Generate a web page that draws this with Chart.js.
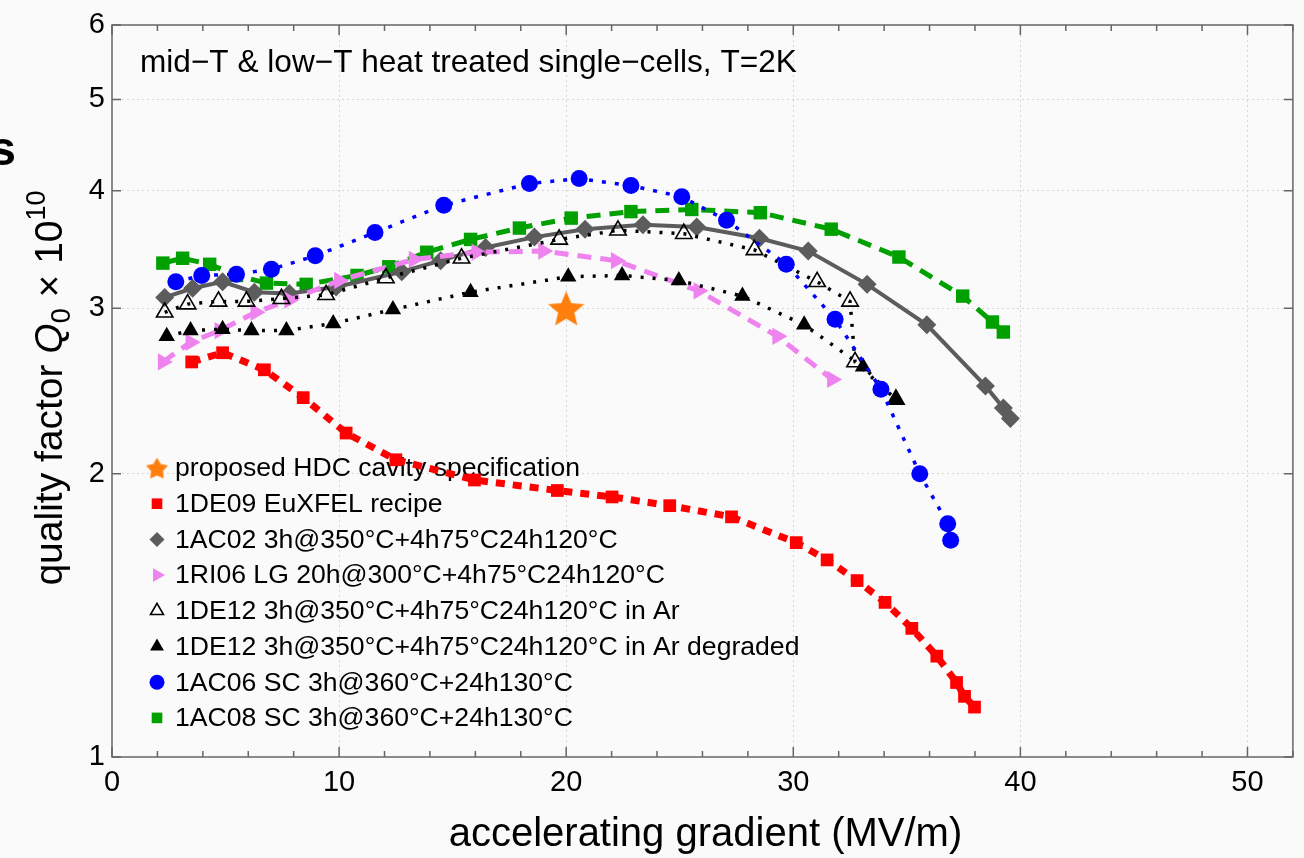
<!DOCTYPE html>
<html>
<head>
<meta charset="utf-8">
<script src="https://cdn.jsdelivr.net/npm/chart.js@4.4.1/dist/chart.umd.min.js"></script>
<style>
html,body{margin:0;padding:0;background:#fafafa;}
#wrap{width:1304px;height:858px;}
</style>
</head>
<body>
<div id="wrap"><canvas id="wykresQ0" width="1304" height="858"></canvas></div>
<script>
const seriesLabels = [
  "proposed HDC cavity specification",
  "1DE09 EuXFEL recipe",
  "1AC02 3h@350°C+4h75°C24h120°C",
  "1RI06 LG 20h@300°C+4h75°C24h120°C",
  "1DE12 3h@350°C+4h75°C24h120°C in Ar",
  "1DE12 3h@350°C+4h75°C24h120°C in Ar degraded",
  "1AC06 SC 3h@360°C+24h130°C",
  "1AC08 SC 3h@360°C+24h130°C"
];

const specX = [20];
const specY = [3.0];

const de09X = [3.51,4.87,6.71,8.42,10.31,12.50,15.96,19.61,22.02,24.56,27.28,30.13,31.49,32.81,34.04,35.22,36.32,37.19,37.54,37.98];
const de09Y = [2.63,2.69,2.58,2.41,2.21,2.07,1.97,1.92,1.89,1.85,1.80,1.69,1.62,1.54,1.46,1.37,1.28,1.20,1.16,1.13];

const ac02X = [2.32,3.55,4.87,6.27,7.81,9.87,12.76,14.47,16.45,18.60,20.83,23.38,25.75,28.51,30.66,33.25,35.88,38.46,39.25,39.56];
const ac02Y = [3.08,3.15,3.20,3.12,3.11,3.16,3.28,3.37,3.48,3.57,3.64,3.68,3.66,3.56,3.45,3.18,2.88,2.48,2.35,2.29];

const ri06X = [2.24,3.46,4.74,6.32,7.81,10.0,13.29,16.05,18.99,22.19,25.83,29.30,31.71];
const ri06Y = [2.63,2.76,2.84,2.97,3.06,3.21,3.38,3.44,3.45,3.37,3.13,2.80,2.52];

const de12X = [2.32,3.33,4.69,5.92,7.46,9.43,12.06,15.39,19.69,22.28,25.18,28.29,31.05,32.50,32.72,34.52];
const de12Y = [2.97,3.03,3.05,3.05,3.07,3.10,3.23,3.39,3.55,3.63,3.60,3.46,3.20,3.05,2.63,2.40];

const de12degX = [2.41,3.46,4.87,6.14,7.68,9.74,12.37,15.79,20.09,22.46,24.96,27.76,30.48,33.07,34.52];
const de12degY = [2.80,2.84,2.85,2.84,2.84,2.89,2.99,3.12,3.24,3.25,3.21,3.09,2.88,2.60,2.40];

const ac06X = [2.81,3.95,5.48,7.02,8.95,11.58,14.61,18.38,20.57,22.85,25.09,27.06,29.69,31.84,33.86,35.57,36.80,36.93];
const ac06Y = [3.20,3.25,3.26,3.30,3.41,3.61,3.86,4.07,4.12,4.05,3.94,3.72,3.34,2.92,2.46,2.00,1.77,1.70];

const ac08X = [2.24,3.11,4.30,5.48,6.80,8.55,10.79,12.19,13.86,15.79,17.94,20.22,22.85,25.53,28.55,31.67,34.65,37.46,38.77,39.25];
const ac08Y = [3.35,3.39,3.34,3.25,3.19,3.18,3.25,3.32,3.44,3.55,3.65,3.74,3.80,3.82,3.79,3.64,3.40,3.09,2.90,2.83];

const yTicks = [1,2,3,4,5,6];
const xMajor = [0,10,20,30,40,50];

const FONT = '"Liberation Sans", Arial, sans-serif';

function pts(xs, ys) {
  return xs.map((x, i) => ({x: x, y: ys[i]}));
}

function makeStar(r, inner, color) {
  var cv = document.createElement('canvas');
  cv.width = cv.height = Math.ceil(r * 2 + 2);
  var c = cv.getContext('2d');
  c.translate(cv.width / 2, cv.height / 2 + r * 0.1);
  c.beginPath();
  for (var i = 0; i < 10; i++) {
    var a = -Math.PI / 2 + i * Math.PI / 5;
    var rr = i % 2 === 0 ? r : r * inner;
    c.lineTo(Math.cos(a) * rr, Math.sin(a) * rr);
  }
  c.closePath();
  c.fillStyle = color;
  c.fill();
  return cv;
}

var bigStar = makeStar(19, 0.45, '#ff7f0e');
var smallStar = makeStar(11.5, 0.55, '#ff7f0e');

// marker look in the legend: style, radius, rotation, fill, stroke
var legendMarks = [
  {s: smallStar, r: 11, rot: 0, fill: '#ff7f0e', stroke: null},
  {s: 'rect', r: 7.5, rot: 0, fill: '#ff0000', stroke: null},
  {s: 'rectRot', r: 7.5, rot: 0, fill: '#5c5c5c', stroke: null},
  {s: 'triangle', r: 8, rot: 90, fill: '#ee82ee', stroke: null},
  {s: 'triangle', r: 7.5, rot: 0, fill: null, stroke: '#000'},
  {s: 'triangle', r: 8, rot: 0, fill: '#000', stroke: null},
  {s: 'circle', r: 7.5, rot: 0, fill: '#0000ff', stroke: null},
  {s: 'rect', r: 7.5, rot: 0, fill: '#00a000', stroke: null}
];

function drawMark(c, m, x, y) {
  c.save();
  c.translate(x, y);
  if (typeof m.s !== 'string') {
    c.drawImage(m.s, -m.s.width / 2, -m.s.height / 2);
    c.restore();
    return;
  }
  c.rotate(m.rot * Math.PI / 180);
  var r = m.r;
  c.beginPath();
  if (m.s === 'circle') {
    c.arc(0, 0, r, 0, Math.PI * 2);
  } else if (m.s === 'rect') {
    var h = r * Math.SQRT1_2;
    c.rect(-h, -h, 2 * h, 2 * h);
  } else if (m.s === 'rectRot') {
    c.moveTo(0, -r); c.lineTo(r, 0); c.lineTo(0, r); c.lineTo(-r, 0);
    c.closePath();
  } else if (m.s === 'triangle') {
    for (var i = 0; i < 3; i++) {
      var a = i * 2 * Math.PI / 3;
      c.lineTo(Math.sin(a) * r, -Math.cos(a) * r);
    }
    c.closePath();
  }
  if (m.fill) { c.fillStyle = m.fill; c.fill(); }
  if (m.stroke) { c.strokeStyle = m.stroke; c.lineWidth = 1.6; c.stroke(); }
  c.restore();
}

var decorPlugin = {
  id: 'decor',
  beforeDraw(chart) {
    var c = chart.ctx;
    c.save();
    c.fillStyle = '#fafafa';
    c.fillRect(0, 0, chart.width, chart.height);
    c.restore();
  },
  beforeDatasetsDraw(chart) {
    var c = chart.ctx;
    c.save();
    c.font = '26.6px ' + FONT;
    c.fillStyle = '#000';
    c.textBaseline = 'middle';
    seriesLabels.forEach(function(lab, i) {
      var y = 468 + i * 35.7;
      drawMark(c, legendMarks[i], 157, y);
      c.fillText(lab, 175, y + 1);
    });
    c.restore();
  },
  afterDatasetsDraw(chart) {
    var c = chart.ctx;
    var a = chart.chartArea;
    var xs = chart.scales.x, ys = chart.scales.y;
    c.save();
    c.strokeStyle = '#666';
    c.lineWidth = 1.5;
    c.beginPath();
    for (var v = 0; v <= 52; v += 2) {
      var px = xs.getPixelForValue(v);
      var len = v % 10 === 0 ? 10 : 6;
      c.moveTo(px, a.bottom); c.lineTo(px, a.bottom - len);
      c.moveTo(px, a.top); c.lineTo(px, a.top + len);
    }
    yTicks.forEach(function(t) {
      var py = ys.getPixelForValue(t);
      c.moveTo(a.left, py); c.lineTo(a.left + 9, py);
      c.moveTo(a.right, py); c.lineTo(a.right - 9, py);
    });
    c.stroke();
    c.strokeRect(a.left, a.top, a.right - a.left, a.bottom - a.top);
    c.restore();
  },
  afterDraw(chart) {
    var c = chart.ctx;
    var a = chart.chartArea;
    c.save();
    c.fillStyle = '#000';
    c.textBaseline = 'alphabetic';
    c.font = '31.6px ' + FONT;
    c.fillText('mid\u2212T & low\u2212T heat treated single\u2212cells, T=2K', 140, 72);

    c.textAlign = 'center';
    c.font = '40px ' + FONT;
    c.fillText('accelerating gradient (MV/m)', (a.left + a.right) / 2 + 3, 846);

    c.font = 'bold 48px ' + FONT;
    c.textAlign = 'right';
    c.fillText('s', 16, 165);

    c.textAlign = 'left';
    c.translate(62, 388);
    c.rotate(-Math.PI / 2);
    var parts = [
      {t: 'quality factor ', f: '39px ' + FONT, dy: 0},
      {t: 'Q', f: 'italic 39px ' + FONT, dy: 0},
      {t: '0', f: '27px ' + FONT, dy: 8},
      {t: ' \u00d7 10', f: '39px ' + FONT, dy: 0},
      {t: '10', f: '27px ' + FONT, dy: -17}
    ];
    var total = 0;
    parts.forEach(function(p) { c.font = p.f; p.w = c.measureText(p.t).width; total += p.w; });
    var x = -total / 2;
    parts.forEach(function(p) { c.font = p.f; c.fillText(p.t, x, p.dy); x += p.w; });
    c.restore();
  }
};

var wykresObiekt = document.getElementById('wykresQ0').getContext('2d');
var wykresQ0 = new Chart(wykresObiekt, {
  type: 'scatter',
  data: {
    datasets: [
      {
        label: seriesLabels[0],
        data: pts(specX, specY),
        pointStyle: bigStar,
        showLine: false
      },
      {
        label: seriesLabels[6],
        data: pts(ac06X, ac06Y),
        borderColor: '#0000ff',
        backgroundColor: '#0000ff',
        borderWidth: 3.5,
        borderDash: [4, 9],
        pointStyle: 'circle',
        pointRadius: 8.5,
        pointBorderWidth: 0
      },
      {
        label: seriesLabels[5],
        data: pts(de12degX, de12degY),
        borderColor: '#000',
        backgroundColor: '#000',
        borderWidth: 3.5,
        borderDash: [3, 9],
        pointStyle: 'triangle',
        pointRadius: 9.5,
        pointBorderWidth: 0
      },
      {
        label: seriesLabels[4],
        data: pts(de12X, de12Y),
        borderColor: '#000',
        backgroundColor: 'rgba(0,0,0,0)',
        borderWidth: 3.5,
        borderDash: [3, 9],
        pointStyle: 'triangle',
        pointRadius: 9.5,
        pointBorderColor: '#000',
        pointBackgroundColor: 'rgba(0,0,0,0)',
        pointBorderWidth: 1.6
      },
      {
        label: seriesLabels[3],
        data: pts(ri06X, ri06Y),
        borderColor: '#ee82ee',
        backgroundColor: '#ee82ee',
        borderWidth: 5,
        borderDash: [14, 9],
        pointStyle: 'triangle',
        pointRotation: 90,
        pointRadius: 10,
        pointBorderWidth: 0
      },
      {
        label: seriesLabels[2],
        data: pts(ac02X, ac02Y),
        borderColor: '#5c5c5c',
        backgroundColor: '#5c5c5c',
        borderWidth: 4,
        pointStyle: 'rectRot',
        pointRadius: 9.5,
        pointBorderWidth: 0
      },
      {
        label: seriesLabels[7],
        data: pts(ac08X, ac08Y),
        borderColor: '#00a000',
        backgroundColor: '#00a000',
        borderWidth: 5,
        borderDash: [14, 9],
        pointStyle: 'rect',
        pointRadius: 9.5,
        pointBorderWidth: 0
      },
      {
        label: seriesLabels[1],
        data: pts(de09X, de09Y),
        borderColor: '#ff0000',
        backgroundColor: '#ff0000',
        borderWidth: 7,
        borderDash: [9, 8],
        pointStyle: 'rect',
        pointRadius: 9,
        pointBorderWidth: 0
      }
    ].map(function(d) {
      if (d.showLine === undefined) d.showLine = true;
      d.tension = 0;
      return d;
    })
  },
  options: {
    responsive: false,
    animation: false,
    events: [],
    layout: {padding: {left: 0, right: 7, top: 25, bottom: 0}},
    scales: {
      x: {
        type: 'linear',
        min: 0,
        max: 52,
        afterFit: function(s) { s.height = 101; },
        ticks: {
          stepSize: 2,
          autoSkip: false,
          maxRotation: 0,
          padding: 9,
          color: '#000',
          font: {size: 29, family: FONT},
          callback: function(v) { return xMajor.indexOf(v) >= 0 ? String(v) : ''; }
        },
        grid: {
          drawTicks: false,
          lineWidth: 1,
          color: function(ctx) {
            var v = ctx.tick ? ctx.tick.value : 0;
            return (v > 0 && v < 52 && v % 10 === 0) ? '#d6d6d6' : 'rgba(0,0,0,0)';
          }
        },
        border: {display: false, dash: [2, 3]}
      },
      y: {
        type: 'logarithmic',
        min: 1,
        max: 6,
        afterFit: function(s) { s.width = 112; },
        afterBuildTicks: function(s) { s.ticks = yTicks.map(function(v) { return {value: v}; }); },
        ticks: {
          padding: 7,
          color: '#000',
          font: {size: 29, family: FONT},
          callback: function(v) { return String(v); }
        },
        grid: {
          drawTicks: false,
          lineWidth: 1,
          color: function(ctx) {
            var v = ctx.tick ? ctx.tick.value : 0;
            return (v > 1 && v < 6) ? '#d6d6d6' : 'rgba(0,0,0,0)';
          }
        },
        border: {display: false, dash: [2, 3]}
      }
    },
    plugins: {
      legend: {display: false},
      tooltip: {enabled: false}
    }
  },
  plugins: [decorPlugin]
});
</script>
</body>
</html>
